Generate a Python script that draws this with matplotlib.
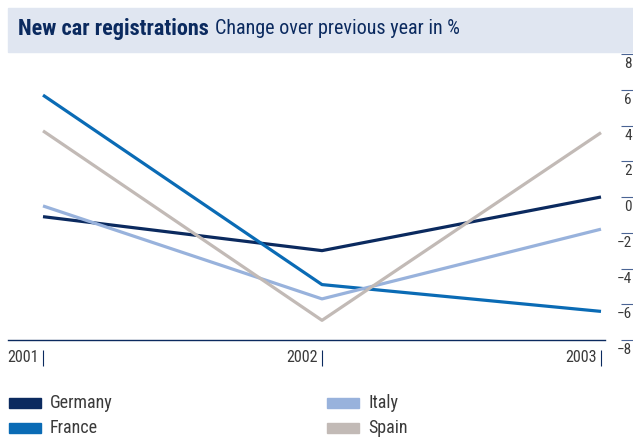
import numpy as np
import matplotlib
matplotlib.use("Agg")
import matplotlib.pyplot as plt
from matplotlib.patches import Rectangle
import matplotlib.transforms as mtrans

plt.rcParams['font.family'] = ['Roboto Condensed', 'Liberation Sans Narrow', 'Roboto']

years = [2001, 2002, 2003]
germany = [-1.1, -3.0, 0.0]
france = [5.7, -4.9, -6.4]
italy = [-0.5, -5.7, -1.8]
spain = [3.7, -6.9, 3.6]
series = ['Germany', 'France', 'Italy', 'Spain']
colors = ['#0b2a5f', '#0a6bb5', '#98b2dc', '#c2bab6']
yticks = [8, 6, 4, 2, 0, -2, -4, -6, -8]

navy = '#0b2a5f'
grey = '#3a3a3a'
W, H = 633, 438
fig = plt.figure(figsize=(W / 100, H / 100), dpi=100)

# title band
fig.patches.append(Rectangle((8 / W, 1 - 52 / H), 625 / W, 44 / H,
                             transform=fig.transFigure, color='#e0e6f1', zorder=0))
t1 = fig.text(18 / W, 1 - 29 / H, 'New car registrations', fontsize=16,
              fontweight='bold', color=navy, va='center')
fig.canvas.draw()
bb = t1.get_window_extent()
fig.text((bb.x1 + 6) / W, 1 - 29 / H, 'Change over previous year in %', fontsize=14.5,
         color=navy, va='center')

ax = fig.add_axes([8 / W, 1 - 340 / H, 597 / W, 288 / H])

for vals, c in zip([germany, france, italy, spain], colors):
    ax.plot(years, vals, color=c, lw=2.3, solid_capstyle='butt')

ax.set_xlim(2001 - 35 / 279, 2003 + 4 / 279)
ax.set_ylim(-8, 8 + 2 / 17.85)

for s in ['top', 'left']:
    ax.spines[s].set_visible(False)
ax.spines['bottom'].set_color(navy)
ax.spines['bottom'].set_linewidth(1.0)
ax.spines['right'].set_position(('outward', 16 * 0.72))
ax.spines['right'].set_visible(False)

ax.set_xticks([])
ax.yaxis.tick_right()
ax.set_yticks(yticks)
ax.tick_params(axis='y', direction='out', length=12 * 0.72, width=0.8, color='#4a6494',
               labelright=False)

# y labels under the tick lines
ylab = mtrans.blended_transform_factory(ax.transAxes, ax.transData)
for v in yticks:
    lab = str(v).replace('-', '\u2212')
    ax.text(1.0, v, lab, transform=ylab + mtrans.ScaledTranslation(27 / 100, -10 / 100, fig.dpi_scale_trans),
            ha='right', va='center', fontsize=11, color=grey, clip_on=False)

# x ticks below axis
xb = mtrans.blended_transform_factory(ax.transData, ax.transAxes)
ax.vlines(years, -26 / 288, -10 / 288, transform=xb, color=navy, lw=0.8, clip_on=False)
for yr in years:
    ax.text(yr, -18 / 288, str(yr), transform=xb + mtrans.ScaledTranslation(-4 / 100, 0, fig.dpi_scale_trans),
            ha='right', va='center', fontsize=11.5, color=grey, clip_on=False)

# legend
pos = [(9, 403), (9, 428), (327, 403), (327, 428)]
for name, c, (x, y) in zip(series, colors, pos):
    fig.patches.append(Rectangle((x / W, 1 - (y + 5) / H), 32 / W, 10 / H,
                                 transform=fig.transFigure, color=c))
    fig.text((x + 41) / W, 1 - y / H, name, fontsize=13, color=grey, va='center')

fig.savefig('out.png', dpi=100)
